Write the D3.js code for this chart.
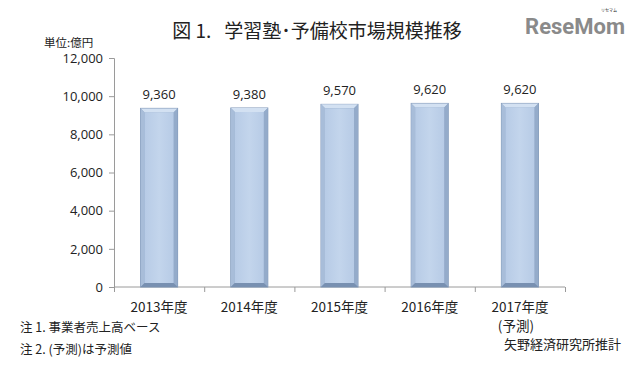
<!DOCTYPE html>
<html>
<head>
<meta charset="utf-8">
<script src="https://cdn.jsdelivr.net/npm/d3@7"></script>
<style>
	body { margin: 0; background: #fff; }
	svg { display: block; }
	.tick text { font-family: "Open Sans", "Liberation Sans", sans-serif; font-size: 13px; fill: #222; }
	.jp { font-family: "Noto Sans CJK JP", sans-serif; fill: #222; }
</style>
</head>
<body>
<div id="chart"></div>
<script>
// Data
const years = ["2013年度", "2014年度", "2015年度", "2016年度", "2017年度"];
const subLabels = ["", "", "", "", "(予測)"];
const values = [9360, 9380, 9570, 9620, 9620];
const yTicks = [0, 2000, 4000, 6000, 8000, 10000, 12000];

const svgWidth = 640;
const svgHeight = 371;

const margin = { top: 58, right: 75, bottom: 84, left: 114 };
const width = svgWidth - margin.left - margin.right;
const height = svgHeight - margin.top - margin.bottom;

const svg = d3.select("#chart")
	.append("svg")
	.attr("width", svgWidth)
	.attr("height", svgHeight);

const defs = svg.append("defs");
const grad = defs.append("linearGradient")
	.attr("id", "face")
	.attr("x1", 0).attr("x2", 1).attr("y1", 0).attr("y2", 0);
grad.append("stop").attr("offset", "0%").attr("stop-color", "#b7cbe6");
grad.append("stop").attr("offset", "50%").attr("stop-color", "#c3d5ec");
grad.append("stop").attr("offset", "100%").attr("stop-color", "#b7cbe6");

const chartGroup = svg.append("g")
	.attr("transform", `translate(${margin.left}, ${margin.top})`);

// Scales
const xScale = d3.scaleBand()
	.domain(years)
	.range([0, width])
	.paddingInner(0.59)
	.paddingOuter(0.295);

const xTickScale = d3.scaleLinear()
	.domain([0, years.length])
	.range([0, width]);

const yScale = d3.scaleLinear()
	.domain([0, 12000])
	.range([height, 0]);

// y axis
const yAxis = chartGroup.append("g")
	.call(d3.axisLeft(yScale).tickValues(yTicks).tickSize(5).tickPadding(6).tickFormat(d3.format(",")));
yAxis.select(".domain").attr("stroke", "#9a9a9a");
yAxis.selectAll(".tick line").attr("stroke", "#9a9a9a");

// x axis line + ticks between categories
const xAxis = chartGroup.append("g")
	.attr("transform", `translate(0, ${height})`);
xAxis.append("line")
	.attr("x1", 0).attr("x2", width)
	.attr("stroke", "#9a9a9a");
xAxis.selectAll("line.xt")
	.data(d3.range(years.length + 1))
	.enter()
	.append("line")
	.classed("xt", true)
	.attr("x1", d => xTickScale(d) + 0.5)
	.attr("x2", d => xTickScale(d) + 0.5)
	.attr("y1", 0)
	.attr("y2", 5)
	.attr("stroke", "#9a9a9a");

// Bars with bevel
const bars = chartGroup.selectAll("g.bar")
	.data(values)
	.enter()
	.append("g")
	.classed("bar", true)
	.attr("transform", (d, i) => `translate(${xScale(years[i])}, ${yScale(d)})`);

const bw = xScale.bandwidth();
const bev = 4;

bars.append("rect")
	.attr("width", bw)
	.attr("height", d => height - yScale(d))
	.attr("fill", "#8fa7c7")
	.attr("stroke", "#7d95b6")
	.attr("stroke-width", 1);

// top bevel (light)
bars.append("polygon")
	.attr("points", `0,0 ${bw},0 ${bw - bev},${bev} ${bev},${bev}`)
	.attr("fill", "#d3e1f2");
// left bevel
bars.append("polygon")
	.attr("points", d => `0,0 ${bev},${bev} ${bev},${height - yScale(d) - bev} 0,${height - yScale(d)}`)
	.attr("fill", "#a8bdd9");
// right bevel
bars.append("polygon")
	.attr("points", d => `${bw},0 ${bw - bev},${bev} ${bw - bev},${height - yScale(d) - bev} ${bw},${height - yScale(d)}`)
	.attr("fill", "#94abca");
// bottom bevel (dark)
bars.append("polygon")
	.attr("points", d => {
		const h = height - yScale(d);
		return `0,${h} ${bev},${h - bev} ${bw - bev},${h - bev} ${bw},${h}`;
	})
	.attr("fill", "#7890b1");
// face
bars.append("rect")
	.attr("x", bev)
	.attr("y", bev)
	.attr("width", bw - 2 * bev)
	.attr("height", d => height - yScale(d) - 2 * bev)
	.attr("fill", "url(#face)");

// value labels
chartGroup.selectAll("text.val")
	.data(values)
	.enter()
	.append("text")
	.classed("val", true)
	.attr("x", (d, i) => xScale(years[i]) + bw / 2)
	.attr("y", d => yScale(d) - 9)
	.attr("text-anchor", "middle")
	.attr("font-family", "'Open Sans', 'Liberation Sans', sans-serif")
	.attr("font-size", 13)
	.attr("fill", "#222")
	.text(d => d3.format(",")(d));

// category labels
chartGroup.selectAll("text.cat")
	.data(years)
	.enter()
	.append("text")
	.classed("cat jp", true)
	.attr("x", (d, i) => xScale(d) + bw / 2)
	.attr("y", height + 25)
	.attr("text-anchor", "middle")
	.attr("font-size", 13.5)
	.text(d => d);

chartGroup.selectAll("text.sub")
	.data(subLabels)
	.enter()
	.append("text")
	.classed("sub jp", true)
	.attr("x", (d, i) => xScale(years[i]) + bw / 2 - 4)
	.attr("y", height + 44)
	.attr("text-anchor", "middle")
	.attr("font-size", 13.5)
	.text(d => d);

// Title and annotations
svg.append("text")
	.classed("jp", true)
	.attr("x", 317)
	.attr("y", 38)
	.attr("text-anchor", "middle")
	.attr("font-size", 19)
	.attr("xml:space", "preserve")
	.style("white-space", "pre")
	.text("図 1.   学習塾･予備校市場規模推移");

svg.append("text")
	.classed("jp", true)
	.attr("x", 44)
	.attr("y", 47)
	.attr("font-size", 11.5)
	.text("単位:億円");

svg.append("text")
	.classed("jp", true)
	.attr("x", 20)
	.attr("y", 332)
	.attr("font-size", 12.5)
	.text("注 1. 事業者売上高ベース");

svg.append("text")
	.classed("jp", true)
	.attr("x", 20)
	.attr("y", 354)
	.attr("font-size", 12.5)
	.text("注 2. (予測)は予測値");

svg.append("text")
	.classed("jp", true)
	.attr("x", 504)
	.attr("y", 349)
	.attr("font-size", 13)
	.text("矢野経済研究所推計");

// logo
svg.append("text")
	.attr("x", 625)
	.attr("y", 34)
	.attr("text-anchor", "end")
	.attr("font-family", "'Liberation Sans Narrow', 'Roboto', sans-serif")
	.attr("font-weight", "bold")
	.attr("font-size", 22)
	.attr("fill", "#8a8a8a")
	.text("ReseMom");
svg.append("text")
	.classed("jp", true)
	.attr("x", 617)
	.attr("y", 12)
	.attr("text-anchor", "end")
	.attr("font-size", 4)
	.attr("fill", "#999")
	.text("リセマム");
</script>
</body>
</html>
